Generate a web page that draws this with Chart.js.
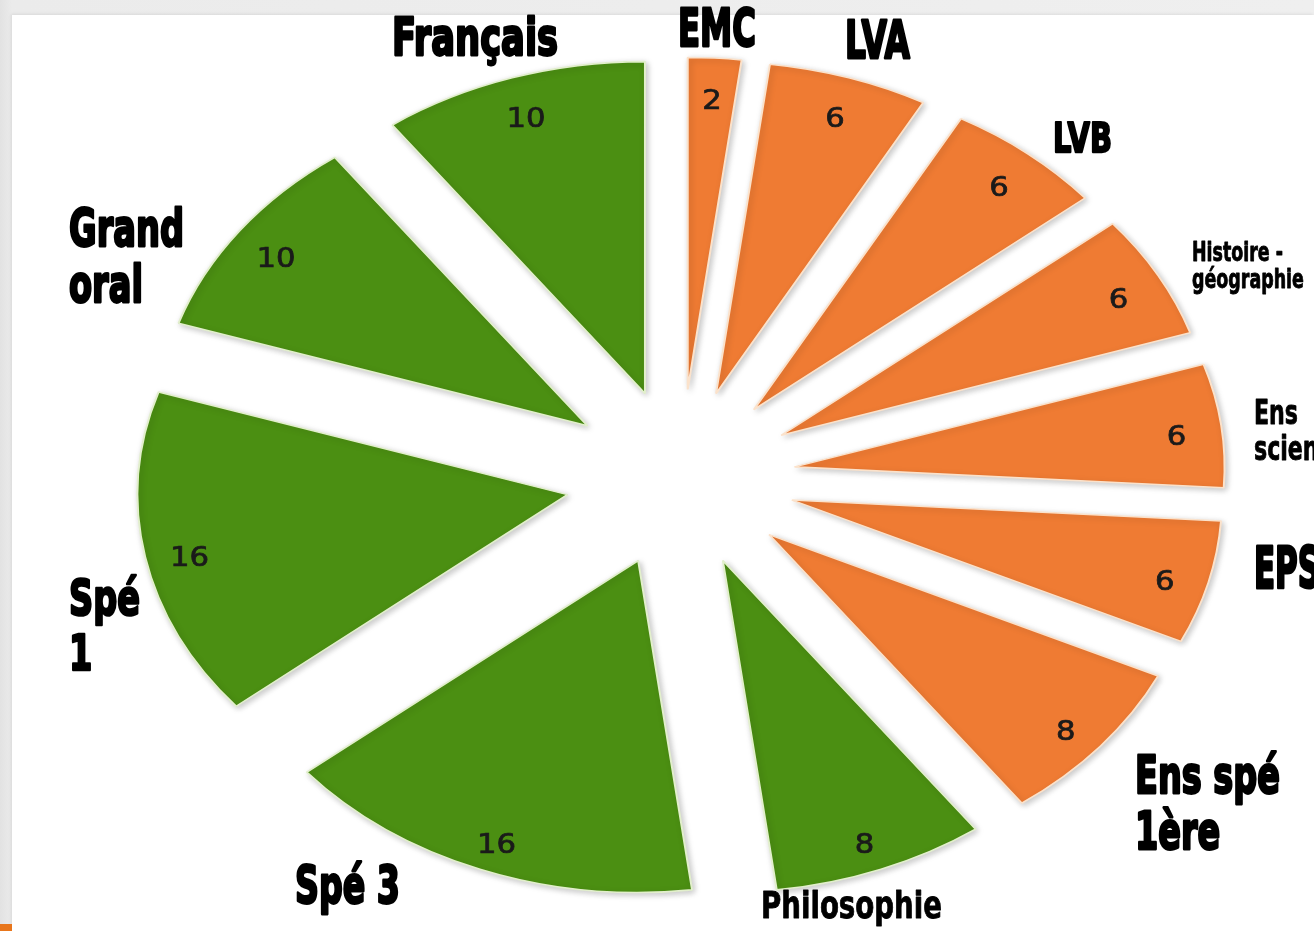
<!DOCTYPE html>
<html lang="fr">
<head>
<meta charset="utf-8">
<title>Coefficients du baccalauréat</title>
<script src="https://cdn.jsdelivr.net/npm/chart.js@4.4.1/dist/chart.umd.min.js"></script>
<style>
  html, body { margin: 0; padding: 0; }
  body {
    width: 1314px; height: 931px; overflow: hidden; position: relative;
    background: linear-gradient(to right, #e2e2e2 0, #ebebeb 12px, #efefef 100%);
  }
  #panel { position: absolute; left: 12px; top: 15px; right: 0; bottom: 0; background: #fff;
    box-shadow: -1px -1px 3px rgba(0, 0, 0, 0.08); }
  #accent { position: absolute; left: 0; bottom: 0; width: 12px; height: 7px; background: #e8761c; }
  canvas { position: absolute; left: 0; top: 0; }
</style>
</head>
<body>
<div id="panel"></div>
<div id="accent"></div>
<canvas id="c" width="1314" height="931"></canvas>
<script>
// slices clockwise from 12 o'clock
const categories = ['EMC', 'LVA', 'LVB', 'Histoire - géographie', 'Ens scientifique', 'EPS',
    'Ens spé 1ère', 'Philosophie', 'Spé 3', 'Spé 1', 'Grand oral', 'Français'];
const coefficients = [2, 6, 6, 6, 6, 6, 8, 8, 16, 16, 10, 10];
// cc = contrôle continu, ef = épreuves finales
const groups = ['cc', 'cc', 'cc', 'cc', 'cc', 'cc', 'cc', 'ef', 'ef', 'ef', 'ef', 'ef'];
const labelLines = [['EMC'], ['LVA'], ['LVB'], ['Histoire -', 'géographie'], ['Ens', 'scientifique'],
    ['EPS'], ['Ens spé', '1ère'], ['Philosophie'], ['Spé 3'], ['Spé', '1'], ['Grand', 'oral'], ['Français']];

// where the hand-placed text boxes sit (left, first baseline, cap height, line gap, first line width)
const labelBoxes = [
    { x: 678, y: 46, cap: 38, w: 78 },
    { x: 845, y: 58, cap: 37, w: 65 },
    { x: 1053, y: 152, cap: 30, w: 59 },
    { x: 1192, y: 261, cap: 19, gap: 27, w: 91 },
    { x: 1254, y: 424, cap: 24, gap: 36, w: 44 },
    { x: 1254, y: 588, cap: 42, w: 66 },
    { x: 1135, y: 793, cap: 38, gap: 56, w: 145 },
    { x: 761, y: 918, cap: 27, w: 181 },
    { x: 295, y: 903, cap: 37, w: 105 },
    { x: 69, y: 615, cap: 36, gap: 55, w: 71 },
    { x: 69, y: 246, cap: 37, gap: 56, w: 115 },
    { x: 392, y: 55, cap: 37, w: 166 },
];

const COLORS = { cc: '#ef7b33', ef: '#4b8f12' };
const EDGES = { cc: '#fbe2cb', ef: '#e2efcc' };
const SQUASH = 0.772;   // pie is drawn as a flattened ellipse
const EXPLODE = 115;    // every slice pulled out from the centre

const explodedEllipse = {
    id: 'explodedEllipse',
    beforeDatasetDraw(chart, args) {
        const ctx = chart.ctx;
        const arcs = args.meta.data;
        const { x, y } = arcs[0];
        ctx.save();
        ctx.translate(x, y);
        ctx.scale(1, SQUASH);
        ctx.translate(-x, -y);
        ctx.shadowColor = 'rgba(0,0,0,0.22)';
        ctx.shadowBlur = 6;
        ctx.shadowOffsetX = 2;
        ctx.shadowOffsetY = 2;
        arcs.forEach(arc => {
            const mid = (arc.startAngle + arc.endAngle) / 2;
            ctx.save();
            ctx.translate(Math.cos(mid) * EXPLODE, Math.sin(mid) * EXPLODE);
            arc.draw(ctx);
            ctx.restore();
        });
        ctx.restore();
        return false;
    },
    afterDatasetsDraw(chart) {
        const ctx = chart.ctx;
        const arcs = chart.getDatasetMeta(0).data;
        ctx.save();
        ctx.font = '26px "DejaVu Sans"';
        ctx.fillStyle = '#1a1a1a';
        ctx.strokeStyle = '#1a1a1a';
        ctx.lineWidth = 0.7;
        ctx.textAlign = 'center';
        ctx.textBaseline = 'middle';
        arcs.forEach((arc, i) => {
            const mid = (arc.startAngle + arc.endAngle) / 2;
            const r = EXPLODE + arc.outerRadius * 0.895;
            ctx.save();
            ctx.translate(arc.x + Math.cos(mid) * r, arc.y + Math.sin(mid) * r * SQUASH + 9);
            ctx.scale(1.18, 1);
            ctx.strokeText(String(coefficients[i]), 0, 0);
            ctx.fillText(String(coefficients[i]), 0, 0);
            ctx.restore();
        });
        ctx.restore();
    }
};

const categoryLabels = {
    id: 'categoryLabels',
    afterDraw(chart) {
        const ctx = chart.ctx;
        ctx.save();
        ctx.fillStyle = '#000';
        ctx.strokeStyle = '#000';
        ctx.lineJoin = 'round';
        ctx.textAlign = 'left';
        ctx.textBaseline = 'alphabetic';
        labelLines.forEach((lines, i) => {
            const b = labelBoxes[i];
            const size = b.cap / 0.729;
            ctx.font = `bold ${size}px "DejaVu Sans"`;
            const sx = b.w ? b.w / ctx.measureText(lines[0]).width : 0.68;
            const gap = b.gap || size * 1.1;
            lines.forEach((line, k) => {
                ctx.save();
                ctx.translate(b.x, b.y + k * gap);
                ctx.scale(sx, 1);
                ctx.lineWidth = b.cap < 30 ? 0.9 : b.cap * 0.075;
                ctx.strokeText(line, 0, 0);
                ctx.fillText(line, 0, 0);
                ctx.restore();
            });
        });
        ctx.restore();
    }
};

new Chart(document.getElementById('c'), {
    type: 'pie',
    data: {
        labels: categories,
        datasets: [{
            data: coefficients,
            backgroundColor: groups.map(g => COLORS[g]),
            borderColor: groups.map(g => EDGES[g]),
            borderWidth: 2,
            clip: false,
        }]
    },
    options: {
        responsive: false,
        animation: false,
        radius: 430,
        layout: { padding: { left: 47, top: 25 } },
        events: [],
        plugins: {
            legend: { display: false },
            tooltip: { enabled: false },
        }
    },
    plugins: [explodedEllipse, categoryLabels]
});
</script>
</body>
</html>
